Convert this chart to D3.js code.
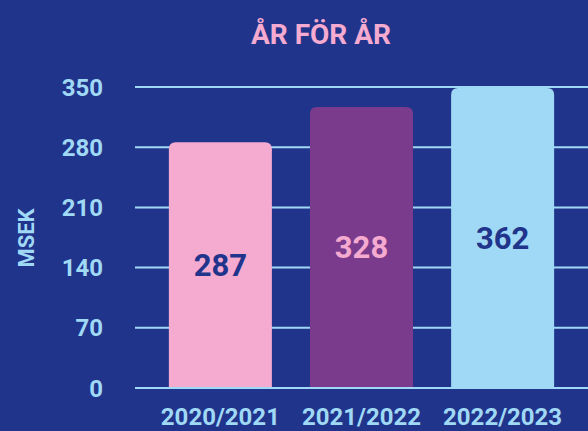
<!DOCTYPE html>
<html><head><meta charset="utf-8">
<script src="https://cdn.jsdelivr.net/npm/d3@7"></script>
<style>html,body{margin:0;padding:0;background:#21348b;}svg{display:block;}</style>
</head><body>
<script>
const categories = ["2020/2021", "2021/2022", "2022/2023"];
const values = [287, 328, 362];
const tickValues = [0, 70, 140, 210, 280, 350];
const barColors = ["#f5aad0", "#7a3b8c", "#a0d9f5"];
const labelColors = ["#21348b", "#f5aad0", "#21348b"];
const title = "ÅR FÖR ÅR";
const yTitle = "MSEK";

const W = 588, H = 431;
const bg = "#21348b", axisCol = "#a0d9f5", pink = "#f5aad0";
const font = "Roboto, 'Noto Sans', sans-serif";

const svg = d3.select("body").append("svg").attr("width", W).attr("height", H);
svg.append("rect").attr("width", W).attr("height", H).attr("fill", bg);

const x = d3.scaleBand().domain(categories).range([135, 588]).paddingInner(0.27).paddingOuter(0.24);
const y = d3.scaleLinear().domain([0, 350]).range([388, 87]).clamp(true);

// gridlines
svg.append("g").selectAll("line").data(tickValues.filter(d => d > 0)).join("line")
  .attr("x1", 135).attr("x2", W)
  .attr("y1", d => y(d)).attr("y2", d => y(d))
  .attr("stroke", axisCol).attr("stroke-width", 2);

// y tick labels
svg.append("g").selectAll("text").data(tickValues).join("text")
  .attr("x", 103).attr("y", d => y(d)).attr("dy", "0.36em")
  .attr("text-anchor", "end").attr("fill", axisCol)
  .attr("font-family", font).attr("font-weight", 700).attr("font-size", 24)
  .text(d => d);

// bars with rounded top corners
const r = 7;
function barPath(x0, w, yTop, yBot) {
  return `M${x0},${yBot}V${yTop + r}Q${x0},${yTop} ${x0 + r},${yTop}H${x0 + w - r}Q${x0 + w},${yTop} ${x0 + w},${yTop + r}V${yBot}Z`;
}
svg.append("g").selectAll("path").data(values).join("path")
  .attr("d", (d, i) => barPath(x(categories[i]), x.bandwidth(), y(d) + 1, y(0)))
  .attr("fill", (d, i) => barColors[i]);

// baseline
svg.append("line").attr("x1", 135).attr("x2", W).attr("y1", y(0)).attr("y2", y(0))
  .attr("stroke", axisCol).attr("stroke-width", 2);

// value labels
svg.append("g").selectAll("text").data(values).join("text")
  .attr("x", (d, i) => x(categories[i]) + x.bandwidth() / 2)
  .attr("y", d => (y(d) + y(0)) / 2).attr("dy", "0.36em")
  .attr("text-anchor", "middle").attr("fill", (d, i) => labelColors[i])
  .attr("font-family", font).attr("font-weight", 700).attr("font-size", 31)
  .text(d => d);

// x labels
svg.append("g").selectAll("text").data(categories).join("text")
  .attr("x", d => x(d) + x.bandwidth() / 2).attr("y", 425)
  .attr("text-anchor", "middle").attr("fill", axisCol)
  .attr("font-family", font).attr("font-weight", 700).attr("font-size", 24)
  .text(d => d);

// y axis title
svg.append("text").attr("transform", "translate(26,238) rotate(-90)")
  .attr("dy", "0.36em").attr("text-anchor", "middle").attr("fill", axisCol)
  .attr("font-family", font).attr("font-weight", 700).attr("font-size", 22)
  .text(yTitle);

// title
svg.append("text").attr("x", 321).attr("y", 43.5).attr("text-anchor", "middle")
  .attr("fill", pink).attr("font-family", font).attr("font-weight", 700).attr("font-size", 28)
  .text(title);
</script>
</body></html>
